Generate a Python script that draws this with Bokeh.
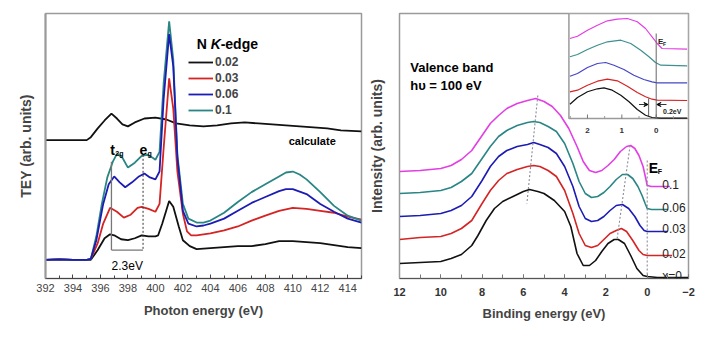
from bokeh.plotting import figure
from bokeh.layouts import row
from bokeh.models import (Range1d, Label, Legend, LegendItem, SingleIntervalTicker,
                          FixedTicker, Arrow, VeeHead)
from bokeh.embed import file_html
from bokeh.resources import INLINE

FONT = "Liberation Sans"

# ---------------- Left panel: N K-edge TEY ----------------
xas_e_002 = [392, 393, 394, 395, 395.3, 395.8, 396.3, 396.7, 397.0, 397.5, 398.0, 398.5, 399.0, 399.5, 400.0,
             400.2, 400.5, 401.0, 401.3, 401.7, 402.0, 402.5, 403, 404, 405, 406, 407, 408, 409, 410,
             411, 412, 413, 414, 415]
xas_v_002 = [19, 19.5, 19, 19, 19, 29, 41, 45, 44, 40, 39, 41, 44, 43, 43,
             44, 56, 79, 73, 53, 39, 33, 30, 31, 32, 33, 33, 35, 38, 38,
             37, 36, 34, 32, 31]

xas_e_003 = [392, 393, 394, 395, 395.3, 395.8, 396.2, 396.7, 397.2, 397.7, 398.2, 398.7, 399.0, 399.5, 400.0,
             400.3, 400.6, 401.0, 401.3, 401.6, 402.0, 402.3, 402.6, 403, 404, 405, 406, 407, 408, 409,
             410, 411, 412, 413, 414, 415]
xas_v_003 = [19, 19.5, 19, 19, 20, 36, 56, 72, 68, 62, 65, 72, 73, 71, 68,
             76, 133, 204, 173, 109, 66, 48, 44, 44, 46, 49, 53, 59, 64, 69,
             72, 71, 69, 67, 63, 60]

xas_e_006 = [392, 393, 394, 395, 395.3, 395.7, 396.2, 396.6, 397.0, 397.4, 397.8, 398.3, 398.8, 399.2, 399.6,
             400.0, 400.3, 400.6, 401.0, 401.3, 401.6, 402.0, 402.4, 403, 403.5, 404, 405, 406, 407, 408,
             409, 409.5, 410, 411, 412, 413, 414, 415]
xas_v_006 = [19, 19.5, 19, 19, 20, 39, 76, 96, 104, 98, 93, 98, 104, 107, 103,
             101, 109, 183, 249, 216, 123, 69, 56, 53, 54, 56, 61, 69, 77, 83,
             89, 91, 91, 86, 76, 68, 61, 57]

xas_e_01 = [392, 393, 394, 395, 395.3, 395.7, 396.1, 396.5, 396.9, 397.2, 397.6, 398.0, 398.5, 399.0, 399.4,
            399.8, 400.0, 400.3, 400.6, 401.0, 401.3, 401.6, 402.0, 402.4, 403, 403.5, 404, 405, 406, 407,
            408, 409, 409.5, 410, 410.5, 411, 412, 413, 414, 415]
xas_v_01 = [19, 19.5, 19, 19, 20, 43, 76, 103, 119, 127, 123, 113, 118, 125, 126,
            123, 121, 129, 199, 262, 223, 126, 76, 61, 57, 57, 59, 67, 78, 88,
            96, 104, 108, 109, 106, 101, 88, 74, 64, 59]

calc_e = [392, 395, 395.3, 395.8, 396.3, 396.8, 397.2, 397.6, 398.0, 398.5, 399.2, 400.0, 400.8, 401.5,
          402.5, 403.5, 404.5, 405.5, 406.5, 407.5, 408.5, 409.5, 410.5, 411.5, 412.5, 413.5, 415]
calc_v = [141, 141, 144, 153, 161, 168, 163, 157, 155, 159, 163, 164, 162, 158,
          156, 155, 156, 158, 159, 158, 157, 156, 155, 154, 153, 151, 150]

xas_labels = ["0.02", "0.03", "0.06", "0.1"]

# ---------------- Right panel: valence band ----------------
vb_e_0 = [12, 11, 10, 9.5, 9, 8.5, 8.2, 7.8, 7.4, 7.0, 6.5, 6.0, 5.7, 5.3, 5.0, 4.5, 4.0, 3.7, 3.4, 3.1,
          2.8, 2.5, 2.2, 1.9, 1.6, 1.4, 1.1, 0.8, 0.5, 0.2, 0, -0.5, -2]
vb_v_0 = [15, 16, 17, 20, 24, 33, 43, 58, 70, 77, 82, 87, 89, 87, 85, 78, 67, 52, 25, 13,
          13, 18, 27, 35, 39, 39, 35, 23, 10, 3, 2, 1, 1]

vb_e_002 = [12, 11, 10, 9.5, 9, 8.5, 8.0, 7.6, 7.2, 6.8, 6.3, 5.8, 5.5, 5.2, 4.8, 4.4, 4.0, 3.6, 3.3, 3.0,
            2.7, 2.4, 2.1, 1.8, 1.5, 1.25, 1.0, 0.7, 0.4, 0.2, 0, -0.5, -1.2]
vb_v_002 = [39, 41, 42, 45, 50, 58, 75, 88, 98, 105, 109, 112, 113, 112, 108, 102, 88, 65, 45, 33,
            31, 33, 39, 45, 48, 50, 47, 38, 28, 24, 23, 23, 23]

vb_e_003 = [12, 11, 10, 9.5, 9, 8.5, 8.0, 7.6, 7.2, 6.8, 6.3, 5.8, 5.5, 5.2, 4.8, 4.4, 4.0, 3.6, 3.3, 3.0,
            2.7, 2.4, 2.1, 1.8, 1.5, 1.2, 0.9, 0.6, 0.35, 0.15, 0, -0.5, -1.0]
vb_v_003 = [62, 63, 65, 68, 73, 82, 98, 112, 122, 128, 132, 134, 136, 134, 131, 125, 112, 92, 72, 60,
            57, 58, 62, 68, 73, 74, 70, 62, 53, 48, 47, 47, 47]

vb_e_006 = [12, 11, 10, 9.5, 9, 8.5, 8.0, 7.6, 7.2, 6.8, 6.3, 5.8, 5.5, 5.2, 4.8, 4.4, 4.0, 3.6, 3.3, 3.0,
            2.7, 2.4, 2.1, 1.8, 1.5, 1.2, 0.95, 0.7, 0.45, 0.25, 0.1, 0, -0.2, -1.0]
vb_v_006 = [85, 86, 88, 91, 97, 105, 120, 132, 142, 148, 153, 156, 157, 156, 152, 147, 135, 115, 97, 85,
            81, 82, 86, 92, 99, 104, 104, 100, 92, 83, 75, 70, 69, 69]

vb_e_01 = [12, 11, 10, 9.5, 9, 8.5, 8.0, 7.6, 7.2, 6.8, 6.3, 5.8, 5.4, 5.0, 4.6, 4.2, 3.8, 3.4, 3.1, 2.8,
           2.5, 2.2, 1.9, 1.6, 1.3, 1.0, 0.8, 0.6, 0.4, 0.2, 0.05, 0, -0.2, -1.1]
vb_v_01 = [107, 108, 110, 113, 119, 128, 143, 155, 163, 170, 175, 178, 180, 177, 172, 163, 150, 132, 117, 108,
           106, 108, 113, 119, 127, 132, 133, 130, 123, 112, 98, 93, 92, 92]

vb_labels = ["x=0", "0.02", "0.03", "0.06", "0.1"]

# inset (near Fermi edge)
in_e_0 = [2.51, 2.29, 2.0, 1.71, 1.52, 1.28, 1.03, 0.79, 0.55, 0.31, 0.12, -0.13, -0.9]
in_v_0 = [14.3, 21, 26.7, 29.7, 30.7, 28.3, 23.3, 16.7, 9, 3.3, 1, 0.3, 0.3]
in_e_002 = [2.51, 2.29, 2.0, 1.71, 1.42, 1.13, 0.84, 0.55, 0.31, 0.12, -0.03, -0.9]
in_v_002 = [26.7, 28.3, 33.3, 37.3, 39.3, 37.7, 32.3, 26, 21.7, 19.3, 18.3, 18]
in_e_003 = [2.51, 2.29, 2.0, 1.71, 1.47, 1.23, 0.94, 0.65, 0.36, 0.12, -0.03, -0.9]
in_v_003 = [42.3, 45, 51, 55, 56, 53.3, 49, 43.3, 39, 36.7, 35.7, 35.7]
in_e_006 = [2.51, 2.29, 2.0, 1.71, 1.42, 1.03, 0.74, 0.45, 0.21, 0.02, -0.13, -0.9]
in_v_006 = [61.7, 64, 69, 73.3, 76.7, 78.3, 75, 68.3, 61.7, 56, 53.3, 52.7]
in_e_01 = [2.51, 2.29, 2.0, 1.71, 1.42, 1.13, 0.84, 0.55, 0.31, 0.12, -0.03, -0.17, -0.9]
in_v_01 = [80, 82.3, 88.3, 93.3, 97.7, 99.3, 100, 96.7, 90, 81.7, 75, 70, 69.3]
inset_ticks = [2, 1, 0]

# ---------------- styling ----------------
C_BLACK = "#111111"
C_RED = "#d42424"
C_BLUE = "#1c1cb4"
C_TEAL = "#2a8585"
C_MAG = "#e33ee3"
FRAME = "#9a9a9a"


def style_common(p):
    p.grid.visible = False
    p.outline_line_color = FRAME
    p.outline_line_width = 1.5
    p.background_fill_color = "white"
    p.border_fill_color = "white"


# ---- left figure ----
p1 = figure(width=365, height=337, x_range=Range1d(392, 415), y_range=Range1d(0, 270),
            output_backend="svg", toolbar_location=None,
            min_border_left=45, min_border_right=4, min_border_top=13, min_border_bottom=54)
style_common(p1)
p1.xaxis.ticker = SingleIntervalTicker(interval=2, num_minor_ticks=2)
p1.xaxis.axis_label = "Photon energy (eV)"
p1.xaxis.axis_label_text_font = FONT
p1.xaxis.axis_label_text_font_size = "13px"
p1.xaxis.axis_label_text_font_style = "bold"
p1.xaxis.axis_label_standoff = 8
p1.xaxis.major_label_text_font = FONT
p1.xaxis.major_label_text_font_size = "11px"
p1.xaxis.major_label_standoff = 5
p1.xaxis.major_tick_in = 4
p1.xaxis.major_tick_out = 0
p1.xaxis.minor_tick_in = 3
p1.xaxis.minor_tick_out = 0
p1.xaxis.axis_line_color = "#444444"
p1.xaxis.major_tick_line_color = "#444444"
p1.xaxis.minor_tick_line_color = "#444444"

p1.yaxis.ticker = FixedTicker(ticks=[])
p1.yaxis.major_label_text_font_size = "0px"
p1.yaxis.major_label_standoff = 0
p1.yaxis.major_tick_line_color = None
p1.yaxis.minor_tick_line_color = None
p1.yaxis.axis_line_color = FRAME
p1.yaxis.axis_line_width = 2
p1.yaxis.axis_label = "TEY (arb. units)"
p1.yaxis.axis_label_text_font = FONT
p1.yaxis.axis_label_text_font_size = "14px"
p1.yaxis.axis_label_text_font_style = "bold"
p1.yaxis.axis_label_standoff = 12

p1.line(calc_e, calc_v, line_color=C_BLACK, line_width=1.8)
r002 = p1.line(xas_e_002, xas_v_002, line_color=C_BLACK, line_width=1.8)
r003 = p1.line(xas_e_003, xas_v_003, line_color=C_RED, line_width=1.8)
r01 = p1.line(xas_e_01, xas_v_01, line_color=C_TEAL, line_width=1.8)
r006 = p1.line(xas_e_006, xas_v_006, line_color=C_BLUE, line_width=1.8)

# t2g / eg markers
p1.segment(x0=[396.8, 396.8], y0=[119, 29], x1=[396.8, 399.1], y1=[29, 29],
           line_color="#777777", line_width=1.3)
p1.segment(x0=[399.1], y0=[126], x1=[399.1], y1=[29], line_color="#333333",
           line_width=1, line_dash="2 2")

legend = Legend(items=[LegendItem(label=xas_labels[0], renderers=[r002]),
                       LegendItem(label=xas_labels[1], renderers=[r003]),
                       LegendItem(label=xas_labels[2], renderers=[r006]),
                       LegendItem(label=xas_labels[3], renderers=[r01])],
                location=(143, 160), orientation="vertical",
                glyph_width=25, glyph_height=16, label_height=16, spacing=0, padding=0, margin=0,
                label_standoff=2, border_line_alpha=0, background_fill_alpha=0,
                label_text_font=FONT, label_text_font_size="12px", label_text_font_style="bold")
p1.add_layout(legend)


def lab(p, x, y, text, size, style="bold", align="left", baseline="alphabetic", xo=0, yo=0,
        color="black", **kw):
    p.add_layout(Label(x=x, y=y, text=text, text_font=FONT, text_font_size=size,
                       text_font_style=style, text_align=align, text_baseline=baseline,
                       x_offset=xo, y_offset=yo, text_color=color, **kw))


lab(p1, 403.0, 239, "N", "14px")
lab(p1, 403.0, 239, "K", "14px", style="bold italic", xo=14)
lab(p1, 403.0, 239, "-edge", "14px", xo=24)
lab(p1, 396.72, 131, "t", "14px")
lab(p1, 396.72, 131, "2g", "7px", xo=5, yo=-4)
lab(p1, 398.85, 131, "e", "14px")
lab(p1, 398.85, 131, "g", "7px", xo=8, yo=-4)
lab(p1, 397.95, 13, "2.3eV", "12px", style="normal", align="center")
lab(p1, 409.7, 140, "calculate", "11px")

# ---- right figure ----
p2 = figure(width=345, height=337, x_range=Range1d(12, -2), y_range=Range1d(0, 265),
            output_backend="svg", toolbar_location=None,
            min_border_left=33, min_border_right=22, min_border_top=13, min_border_bottom=59)
style_common(p2)
p2.xaxis.ticker = SingleIntervalTicker(interval=2, num_minor_ticks=2)
p2.xaxis.axis_label = "Binding energy (eV)"
p2.xaxis.axis_label_text_font = FONT
p2.xaxis.axis_label_text_font_size = "13px"
p2.xaxis.axis_label_text_font_style = "bold"
p2.xaxis.axis_label_standoff = 7
p2.xaxis.major_label_text_font = FONT
p2.xaxis.major_label_text_font_size = "11px"
p2.xaxis.major_label_text_font_style = "bold"
p2.xaxis.major_label_text_color = "#333333"
p2.xaxis.major_label_standoff = 9
p2.xaxis.major_tick_in = 4
p2.xaxis.major_tick_out = 0
p2.xaxis.minor_tick_in = 4
p2.xaxis.minor_tick_out = 0
p2.xaxis.axis_line_color = "#555555"
p2.xaxis.major_tick_line_color = "#777777"
p2.xaxis.minor_tick_line_color = "#777777"

p2.yaxis.ticker = FixedTicker(ticks=[])
p2.yaxis.major_label_text_font_size = "0px"
p2.yaxis.major_label_standoff = 0
p2.yaxis.major_tick_line_color = None
p2.yaxis.minor_tick_line_color = None
p2.yaxis.axis_line_color = FRAME
p2.yaxis.axis_label = "Intensity (arb. units)"
p2.yaxis.axis_label_text_font = FONT
p2.yaxis.axis_label_text_font_size = "14px"
p2.yaxis.axis_label_text_font_style = "bold"
p2.yaxis.axis_label_standoff = 15

vb_curves = [(vb_e_0, vb_v_0, C_BLACK), (vb_e_002, vb_v_002, C_RED), (vb_e_003, vb_v_003, C_BLUE),
             (vb_e_006, vb_v_006, C_TEAL), (vb_e_01, vb_v_01, C_MAG)]
for e, v, c in vb_curves:
    p2.line(e, v, line_color=c, line_width=1.6)

# guide dotted lines
p2.segment(x0=[5.3, 0.83, 0.0], y0=[183, 133, 118], x1=[5.83, 1.47, 0.0], y1=[75, 38, 2],
           line_color="#8a8a9a", line_width=1.1, line_dash="2 2")

lab(p2, 11.48, 211, "Valence band", "13px")
lab(p2, 11.48, 193, "h\u03c5 = 100 eV", "13px")
lab(p2, -0.07, 111, "E", "14px")
lab(p2, -0.07, 111, "F", "7px", xo=9, yo=-4)
for txt, yv in zip(vb_labels, [2.3, 25, 50, 71, 94]):
    lab(p2, -0.73, yv, txt, "12px", style="normal", color="#222222")

# inset drawn on extra ranges
p2.extra_x_ranges = {"ix": Range1d(7.47, -0.94)}
p2.extra_y_ranges = {"iy": Range1d(-160, 105)}
IR = dict(x_range_name="ix", y_range_name="iy")
p2.quad(left=[2.54], right=[-0.94], bottom=[0], top=[105], fill_color="white",
        line_color=FRAME, line_width=1.5, **IR)
in_curves = [(in_e_0, in_v_0, C_BLACK), (in_e_002, in_v_002, C_RED), (in_e_003, in_v_003, "#4646c8"),
             (in_e_006, in_v_006, "#3f9090"), (in_e_01, in_v_01, C_MAG)]
for e, v, c in in_curves:
    p2.line(e, v, line_color=c, line_width=1.2, **IR)
# inset ticks
p2.segment(x0=inset_ticks, y0=[0] * 3, x1=inset_ticks, y1=[4] * 3, line_color="#777777", **IR)
p2.segment(x0=[2.5, 1.5, 0.5, -0.5], y0=[0] * 4, x1=[2.5, 1.5, 0.5, -0.5], y1=[2.5] * 4,
           line_color="#999999", **IR)
for t in inset_ticks:
    lab(p2, t, -12, str(t), "8px", align="center", color="#333333", **IR)
# Fermi level line and 0.2 eV shift
p2.segment(x0=[0.0], y0=[0], x1=[0.0], y1=[85], line_color="#666666", line_width=1, **IR)
p2.segment(x0=[0.22], y0=[2], x1=[0.22], y1=[20], line_color="#333333", line_width=0.8, **IR)
p2.add_layout(Arrow(end=VeeHead(size=4, line_color="black", fill_color="black"),
                    x_start=0.5, y_start=14, x_end=0.24, y_end=14, line_width=0.8, **IR))
p2.add_layout(Arrow(end=VeeHead(size=4, line_color="black", fill_color="black"),
                    x_start=-0.3, y_start=14, x_end=-0.02, y_end=14, line_width=0.8, **IR))
lab(p2, -0.2, 7, "0.2eV", "7px", color="#222222", **IR)
lab(p2, -0.05, 77, "E", "8px", color="#222222", **IR)
lab(p2, -0.05, 77, "F", "5px", xo=5, yo=-2, color="#222222", **IR)

layout = row(p1, p2)
open("out.html", "w").write(file_html(layout, INLINE))
